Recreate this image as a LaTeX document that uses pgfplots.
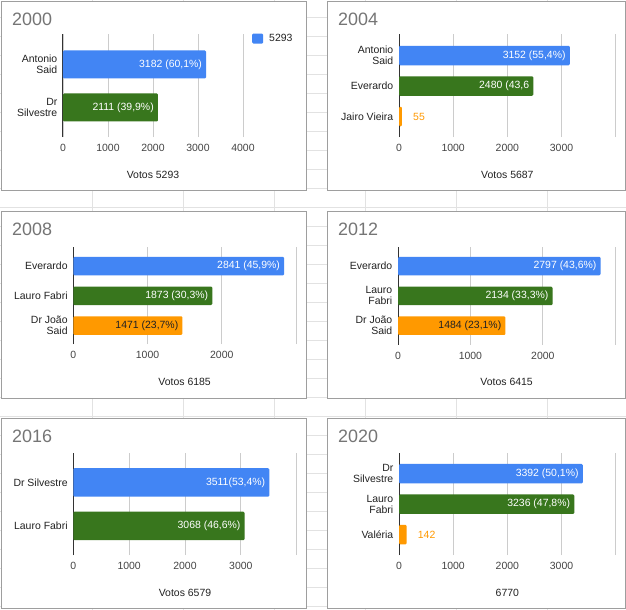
\documentclass[border=0pt]{standalone}
\usepackage{fontspec}
\setmainfont{Liberation Sans}
\usepackage{pgfplots}
\pgfplotsset{compat=1.18}
\definecolor{gblue}{HTML}{4285F4}
\definecolor{ggreen}{HTML}{38761D}
\definecolor{gorange}{HTML}{FF9900}
\definecolor{titlegray}{HTML}{757575}
\definecolor{labelc}{HTML}{222222}
\definecolor{tickc}{HTML}{444444}
\definecolor{gridc}{HTML}{CCCCCC}
\definecolor{axisc}{HTML}{333333}
\definecolor{borderc}{HTML}{9E9E9E}
\definecolor{sheetc}{HTML}{E2E2E2}
\definecolor{darklabc}{HTML}{202124}
\newcommand\lbl{\fontsize{10.5}{11}\selectfont}
\newcommand\ttl{\fontsize{18}{20}\selectfont}
\pgfplotsset{
  panel/.style={
    scale only axis, anchor=south west,
    xbar, bar shift=0pt,
    axis lines*=left,
    x axis line style={draw=none},
    y axis line style={draw=axisc, line width=1bp},
    xmajorgrids, grid style={draw=gridc, line width=0.8bp},
    major tick length=0pt,
    xmin=0,
    /pgf/number format/assume math mode=true,
    tick label style={font=\lbl},
    xticklabel style={anchor=center, yshift=-11bp, text=tickc, inner sep=0pt},
    yticklabel style={anchor=east, align=right, inner sep=0pt, xshift=-5.5bp, text=labelc},
    xlabel style={at={(axis description cs:0.5,0)}, anchor=center, yshift=-37.5bp, font=\lbl, text=labelc, inner sep=0pt},
    clip=false,
  },
  bars/.style={fill=#1, draw=none, rounded corners=1.2bp},
  inlab/.style={nodes near coords={#1}, nodes near coords style={anchor=east, xshift=-4bp, text=white, font=\lbl, inner sep=0pt}},
  darklab/.style={nodes near coords={#1}, nodes near coords style={anchor=east, xshift=-4bp, text=darklabc, font=\lbl, inner sep=0pt}},
  outlab/.style={nodes near coords={#1}, nodes near coords style={anchor=west, xshift=11bp, text=gorange, font=\lbl, inner sep=0pt}},
}
\begin{document}
\begin{tikzpicture}
\useasboundingbox (0,0) rectangle (626bp,-610bp);
\fill[white] (0,0) rectangle (626bp,-610bp);
\foreach \x in {92,183,274,365,456,547} \draw[sheetc, line width=0.8bp] (\x bp,0) -- (\x bp,-610bp);
\foreach \y in {17,36,...,606} \draw[sheetc, line width=0.8bp] (0,-\y bp) -- (626bp,-\y bp);
\draw[borderc, fill=white, line width=1bp] (1.5bp,-1.5bp) rectangle (306.5bp,-190bp);
\draw[borderc, fill=white, line width=1bp] (327bp,-1.5bp) rectangle (625bp,-190bp);
\draw[borderc, fill=white, line width=1bp] (1.5bp,-211bp) rectangle (306.5bp,-398bp);
\draw[borderc, fill=white, line width=1bp] (327bp,-211bp) rectangle (625bp,-398bp);
\draw[borderc, fill=white, line width=1bp] (1.5bp,-418bp) rectangle (306.5bp,-608.5bp);
\draw[borderc, fill=white, line width=1bp] (327bp,-418bp) rectangle (625bp,-608.5bp);
\node[anchor=west, inner sep=0pt, font=\ttl, text=titlegray] at (12bp,-19bp) {2000};
\node[anchor=west, inner sep=0pt, font=\ttl, text=titlegray] at (338bp,-19bp) {2004};
\node[anchor=west, inner sep=0pt, font=\ttl, text=titlegray] at (12bp,-229bp) {2008};
\node[anchor=west, inner sep=0pt, font=\ttl, text=titlegray] at (338bp,-229.5bp) {2012};
\node[anchor=west, inner sep=0pt, font=\ttl, text=titlegray] at (12bp,-436.5bp) {2016};
\node[anchor=west, inner sep=0pt, font=\ttl, text=titlegray] at (338bp,-436.5bp) {2020};

% 2000
\begin{axis}[panel, at={(63bp,-137bp)}, width=180bp, height=103bp,
  xmax=4000, ymin=-0.686, ymax=1.709,
  xtick={0,1000,2000,3000,4000}, xticklabels={0,1000,2000,3000,4000},
  ytick={0,1}, yticklabels={{Dr\\Silvestre},{Antonio\\Said}},
  xlabel={Votos 5293}, bar width=28bp,
  legend style={at={(1,1)}, anchor=north west, xshift=9bp, yshift=1bp, draw=none, fill=none,
    font=\lbl, text=labelc, inner sep=0pt, nodes={inner sep=1bp},
    /tikz/every odd column/.append style={column sep=5bp}},
  legend cell align=left]
\addplot[bars=gblue, inlab={3182 (60,1\%)},
  legend image code/.code={\fill[gblue] (0bp,-5bp) rectangle (11bp,5bp);}] coordinates {(3182,1)};
\addlegendentry{5293}
\addplot[bars=ggreen, inlab={2111 (39,9\%)}] coordinates {(2111,0)};
\end{axis}

% 2004
\begin{axis}[panel, at={(399bp,-137bp)}, width=216.7bp, height=103bp,
  xmax=4000, ymin=-0.672, ymax=2.705,
  xtick={0,1000,2000,3000,4000}, xticklabels={0,1000,2000,3000,{}},
  ytick={0,1,2}, yticklabels={Jairo Vieira,Everardo,{Antonio\\Said}},
  xlabel={Votos 5687}, bar width=19.5bp]
\addplot[bars=gblue, inlab={3152 (55,4\%)}] coordinates {(3152,2)};
\addplot[bars=ggreen, inlab={2480 (43,6}] coordinates {(2480,1)};
\addplot[bars=gorange, outlab={55}] coordinates {(55,0)};
\end{axis}

% 2008
\begin{axis}[panel, at={(73.3bp,-344bp)}, width=222.7bp, height=97bp,
  xmax=3000, ymin=-0.622, ymax=2.639,
  xtick={0,1000,2000,3000}, xticklabels={0,1000,2000,{}},
  ytick={0,1,2}, yticklabels={{Dr João\\Said},Lauro Fabri,Everardo},
  xlabel={Votos 6185}, bar width=18.5bp]
\addplot[bars=gblue, inlab={2841 (45,9\%)}] coordinates {(2841,2)};
\addplot[bars=ggreen, inlab={1873 (30,3\%)}] coordinates {(1873,1)};
\addplot[bars=gorange, darklab={1471 (23,7\%)}] coordinates {(1471,0)};
\end{axis}

% 2012
\begin{axis}[panel, at={(398bp,-344.5bp)}, width=217.3bp, height=97.5bp,
  xmax=3000, ymin=-0.63, ymax=2.639,
  xtick={0,1000,2000,3000}, xticklabels={0,1000,2000,{}},
  ytick={0,1,2}, yticklabels={{Dr João\\Said},{Lauro\\Fabri},Everardo},
  xlabel={Votos 6415}, bar width=18.5bp]
\addplot[bars=gblue, inlab={2797 (43,6\%)}] coordinates {(2797,2)};
\addplot[bars=ggreen, inlab={2134 (33,3\%)}] coordinates {(2134,1)};
\addplot[bars=gorange, darklab={1484 (23,1\%)}] coordinates {(1484,0)};
\end{axis}

% 2016
\begin{axis}[panel, at={(73.3bp,-555bp)}, width=223.4bp, height=102bp,
  xmax=4000, ymin=-0.667, ymax=1.678,
  xtick={0,1000,2000,3000,4000}, xticklabels={0,1000,2000,3000,{}},
  ytick={0,1}, yticklabels={Lauro Fabri,Dr Silvestre},
  xlabel={Votos 6579}, bar width=28.5bp]
\addplot[bars=gblue, inlab={3511(53,4\%)}] coordinates {(3511,1)};
\addplot[bars=ggreen, inlab={3068 (46,6\%)}] coordinates {(3068,0)};
\end{axis}

% 2020
\begin{axis}[panel, at={(399bp,-555bp)}, width=216.7bp, height=102.3bp,
  xmax=4000, ymin=-0.666, ymax=2.689,
  xtick={0,1000,2000,3000,4000}, xticklabels={0,1000,2000,3000,{}},
  ytick={0,1,2}, yticklabels={Valéria,{Lauro\\Fabri},{Dr\\Silvestre}},
  xlabel={6770}, bar width=19.5bp]
\addplot[bars=gblue, inlab={3392 (50,1\%)}] coordinates {(3392,2)};
\addplot[bars=ggreen, inlab={3236 (47,8\%)}] coordinates {(3236,1)};
\addplot[bars=gorange, outlab={142}] coordinates {(142,0)};
\end{axis}
\end{tikzpicture}
\end{document}
